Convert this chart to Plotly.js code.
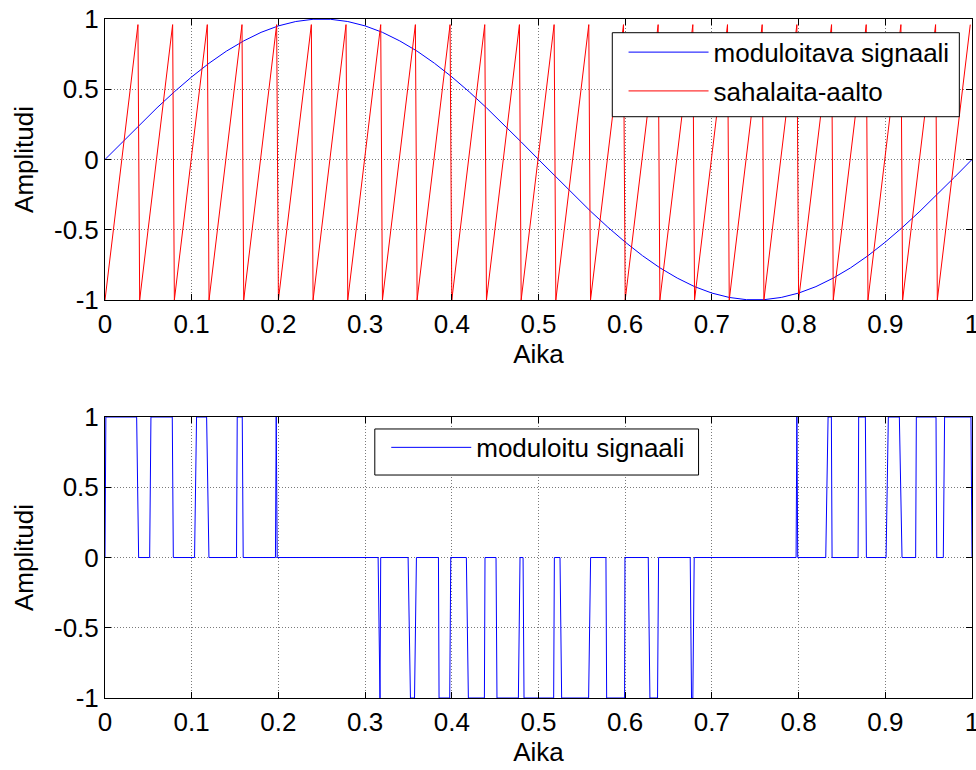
<!DOCTYPE html>
<html>
<head>
<meta charset="utf-8">
<script src="https://cdn.plot.ly/plotly-3.0.1.min.js"></script>
<style>html,body{margin:0;padding:0;background:#fff;}#chart{width:976px;height:770px;}</style>
</head>
<body>
<div id="chart"></div>
<script>
// ---- data ----
var sineT = [0,0.02,0.04,0.06,0.08,0.10,0.12,0.14,0.16,0.18,0.20,0.22,0.24,0.26,0.28,0.30,0.32,0.34,0.36,0.38,0.40,0.42,0.44,0.46,0.48,0.50,
             0.52,0.54,0.56,0.58,0.60,0.62,0.64,0.66,0.68,0.70,0.72,0.74,0.76,0.78,0.80,0.82,0.84,0.86,0.88,0.90,0.92,0.94,0.96,0.98,1.00];
var sineV = [0,0.125,0.249,0.368,0.482,0.588,0.685,0.771,0.844,0.905,0.951,0.982,0.998,0.998,0.982,0.951,0.905,0.844,0.771,0.685,0.588,0.482,0.368,0.249,0.125,0,
             -0.125,-0.249,-0.368,-0.482,-0.588,-0.685,-0.771,-0.844,-0.905,-0.951,-0.982,-0.998,-0.998,-0.982,-0.951,-0.905,-0.844,-0.771,-0.685,-0.588,-0.482,-0.368,-0.249,-0.125,0];

var sawT = [0,0.038,0.040,0.078,0.080,0.118,0.120,0.158,0.160,0.198,0.200,0.238,0.240,0.278,0.280,0.318,0.320,0.358,0.360,0.398,0.400,
            0.438,0.440,0.478,0.480,0.518,0.520,0.558,0.560,0.598,0.600,0.638,0.640,0.678,0.680,0.718,0.720,0.758,0.760,0.798,0.800,
            0.838,0.840,0.878,0.880,0.918,0.920,0.958,0.960,0.998];
var sawV = [-1,0.96,-1,0.96,-1,0.96,-1,0.96,-1,0.96,-1,0.96,-1,0.96,-1,0.96,-1,0.96,-1,0.96,-1,
            0.96,-1,0.96,-1,0.96,-1,0.96,-1,0.96,-1,0.96,-1,0.96,-1,0.96,-1,0.96,-1,0.96,-1,
            0.96,-1,0.96,-1,0.96,-1,0.96,-1,0.96];

var pwmT = [0,0.001,0.0365,0.0388,0.0515,0.053,0.0776,0.0788,0.1033,0.1056,0.1172,0.1199,0.1517,0.1525,0.1583,0.1594,
            0.1966,0.1975,0.1986,
            0.3150,0.3172,0.3180,
            0.3496,0.3523,0.3570,0.3592,0.3846,0.3853,0.3976,0.3988,0.4168,0.4191,0.4376,0.4383,0.4510,0.4521,0.4768,0.4787,
            0.4822,0.4833,0.5175,0.5183,0.5248,0.5267,0.5578,0.5601,0.5778,0.5786,0.5993,0.5997,0.6266,0.6285,0.6373,0.6385,
            0.6750,0.6765,0.6780,0.6796,
            0.7971,0.7980,0.7990,
            0.8313,0.8340,0.8378,0.8386,0.8686,0.8693,0.8770,0.8782,0.9009,0.9035,0.9162,0.9193,0.9350,0.9358,0.9585,0.9593,
            0.9669,0.9684,0.9988,1.0];
var pwmV = [0,1,1,0,0,1,1,0,0,1,1,0,0,1,1,0,
            0,1,0,
            0,-1,0,
            0,-1,-1,0,0,-1,-1,0,0,-1,-1,0,0,-1,-1,0,
            0,-1,-1,0,0,-1,-1,0,0,-1,-1,0,0,-1,-1,0,
            0,-1,-1,0,
            0,1,0,
            0,1,1,0,0,1,1,0,0,1,1,0,0,1,1,0,
            0,1,1,0];

var xTickVals = [0,0.1,0.2,0.3,0.4,0.5,0.6,0.7,0.8,0.9,1];
var xTickText = ["0","0.1","0.2","0.3","0.4","0.5","0.6","0.7","0.8","0.9","1"];
var yTickVals = [-1,-0.5,0,0.5,1];
var yTickText = ["-1","-0.5","0","0.5","1"];

var seriesNames = ["moduloitava signaali","sahalaita-aalto","moduloitu signaali"];
var xLabel = "Aika";
var yLabel = "Amplitudi";

// ---- chart ----
var FONT = "'Liberation Sans', Arial, sans-serif";
var FS = 26;

var traces = [
  {x: sineT, y: sineV, type: 'scatter', mode: 'lines', name: seriesNames[0], line: {color: '#0000ff', width: 1},
   xaxis: 'x', yaxis: 'y', legend: 'legend', legendgroup: 'a'},
  {x: sawT, y: sawV, type: 'scatter', mode: 'lines', name: seriesNames[1], line: {color: '#ff0000', width: 1},
   xaxis: 'x', yaxis: 'y', legend: 'legend', legendgroup: 'b'},
  {x: pwmT, y: pwmV, type: 'scatter', mode: 'lines', name: seriesNames[2], line: {color: '#0000ff', width: 1},
   xaxis: 'x2', yaxis: 'y2', legend: 'legend2'}
];

function xAxis(anchor) {
  return {
    anchor: anchor, range: [0, 1], tickvals: xTickVals, ticktext: xTickText,
    ticks: 'inside', ticklen: 6, tickcolor: '#000', showline: true, linecolor: '#000', linewidth: 1, mirror: 'ticks',
    showgrid: true, gridcolor: '#7a7a7a', griddash: '1px,2px', gridwidth: 1, zeroline: false,
    tickfont: {family: FONT, size: FS, color: '#000'}, ticklabeloverflow: 'allow',
    title: {text: xLabel, font: {family: FONT, size: FS, color: '#000'}, standoff: 2},
    ticklabelstandoff: 1
  };
}
function yAxis(anchor, domain) {
  return {
    anchor: anchor, domain: domain, range: [-1, 1], tickvals: yTickVals, ticktext: yTickText,
    ticks: 'inside', ticklen: 6, tickcolor: '#000', showline: true, linecolor: '#000', linewidth: 1, mirror: 'ticks',
    showgrid: true, gridcolor: '#7a7a7a', griddash: '1px,2px', gridwidth: 1, zeroline: false,
    tickfont: {family: FONT, size: FS, color: '#000'},
    title: {text: yLabel, font: {family: FONT, size: FS, color: '#000'}, standoff: 12},
    ticklabelstandoff: 0
  };
}

// legend frames (paper coordinates)
var frames = [
  {type: 'rect', xref: 'paper', yref: 'paper', x0: 0.5851, x1: 0.9854, y0: 0.8561, y1: 0.9798,
   line: {color: '#000', width: 1}, fillcolor: '#fff', layer: 'above'},
  {type: 'rect', xref: 'paper', yref: 'paper', x0: 0.3112, x1: 0.6846, y0: 0.3284, y1: 0.3962,
   line: {color: '#000', width: 1}, fillcolor: '#fff', layer: 'above'}
];

var layout = {
  width: 976, height: 770,
  margin: {l: 105, r: 4, t: 19, b: 72},
  paper_bgcolor: '#fff', plot_bgcolor: '#fff',
  font: {family: FONT, size: FS, color: '#000'},
  showlegend: true,
  shapes: frames,
  xaxis: xAxis('y'),
  yaxis: yAxis('x', [0.5862, 1]),
  xaxis2: xAxis('y2'),
  yaxis2: yAxis('x2', [0, 0.4138]),
  legend: {x: 0.5981, y: 0.9857, xanchor: 'left', yanchor: 'top', bgcolor: 'rgba(0,0,0,0)', borderwidth: 0,
           font: {family: FONT, size: FS, color: '#000'}, itemwidth: 80, tracegroupgap: 2, traceorder: 'grouped'},
  legend2: {x: 0.3244, y: 0.4036, xanchor: 'left', yanchor: 'top', bgcolor: 'rgba(0,0,0,0)', borderwidth: 0,
           font: {family: FONT, size: FS, color: '#000'}, itemwidth: 80}
};

Plotly.newPlot('chart', traces, layout, {staticPlot: true, displayModeBar: false});
</script>
</body>
</html>
